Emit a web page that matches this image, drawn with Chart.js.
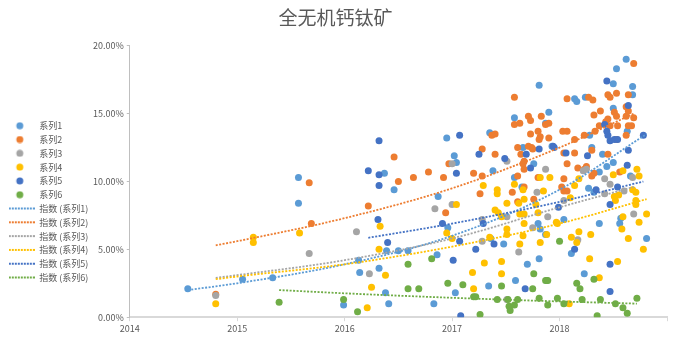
<!DOCTYPE html>
<html>
<head>
<meta charset="utf-8">
<script src="https://cdn.jsdelivr.net/npm/chart.js@4"></script>
<style>
  html, body { margin: 0; padding: 0; background: #fff; }
  #wrap { width: 680px; height: 340px; }
</style>
</head>
<body>
<div id="wrap"><canvas id="chart"></canvas></div>
<script>
// Series names and colours
const seriesNames = ["系列1", "系列2", "系列3", "系列4", "系列5", "系列6"];
const colors = ["#5B9BD5", "#ED7D31", "#A5A5A5", "#FFC000", "#4472C4", "#70AD47"];

// Points: [year, percent]
const s1 = [[2014.54,2.1],[2015.05,2.8],[2015.33,2.9],[2015.57,10.3],[2015.57,8.4],[2015.99,0.9],[2016.13,4.2],[2016.14,3.3],[2016.32,3.6],[2016.37,10.6],[2016.38,1.8],[2016.39,4.9],[2016.41,1.0],[2016.46,9.4],[2016.50,4.9],[2016.59,4.9],[2016.83,1.0],[2016.86,4.6],[2016.87,8.9],[2016.95,13.2],[2016.96,6.6],[2017.02,11.9],[2017.04,11.4],[2017.03,1.8],[2017.34,2.3],[2017.35,13.6],[2017.36,5.8],[2017.38,10.8],[2017.48,5.4],[2017.58,14.7],[2017.58,10.3],[2017.59,2.7],[2017.65,9.6],[2017.66,12.5],[2017.70,3.9],[2017.76,11.3],[2017.80,6.9],[2017.81,17.1],[2017.81,4.3],[2017.82,6.5],[2017.87,6.1],[2017.87,14.3],[2017.90,15.1],[2017.88,2.7],[2017.93,12.6],[2018.04,7.2],[2018.11,4.7],[2018.14,16.1],[2018.16,15.9],[2018.24,16.2],[2018.27,9.5],[2018.28,13.4],[2018.30,12.5],[2018.32,9.2],[2018.23,3.2],[2018.37,10.7],[2018.37,6.9],[2018.40,12.0],[2018.44,11.1],[2018.50,17.2],[2018.50,15.4],[2018.50,11.4],[2018.53,18.3],[2018.56,6.9],[2018.57,7.3],[2018.62,19.0],[2018.63,13.7],[2018.66,10.4],[2018.68,17.0],[2018.68,16.4],[2018.81,5.8]];
const s2 = [[2014.80,1.7],[2015.67,9.9],[2015.69,6.9],[2016.22,8.2],[2016.46,11.8],[2016.50,10.0],[2016.64,10.3],[2016.78,10.7],[2016.92,10.3],[2016.94,7.7],[2016.97,11.3],[2017.20,10.6],[2017.28,12.4],[2017.26,9.1],[2017.28,10.4],[2017.37,13.4],[2017.40,13.5],[2017.40,12.0],[2017.58,16.2],[2017.58,14.2],[2017.63,14.3],[2017.71,14.8],[2017.73,14.5],[2017.61,12.5],[2017.74,12.5],[2017.80,13.7],[2017.82,13.3],[2017.56,9.2],[2017.61,10.4],[2017.76,8.7],[2017.80,10.3],[2018.07,16.1],[2017.83,14.8],[2017.87,14.2],[2017.90,14.3],[2017.73,13.5],[2017.81,13.1],[2017.90,13.2],[2018.03,13.7],[2018.07,13.7],[2017.71,12.6],[2017.75,12.4],[2017.64,12.0],[2017.67,11.5],[2017.66,11.3],[2017.67,10.9],[2018.07,11.3],[2018.04,12.1],[2018.69,18.7],[2018.31,16.0],[2018.27,16.2],[2018.45,16.4],[2018.47,16.2],[2018.53,16.5],[2018.64,16.4],[2018.38,15.2],[2018.32,14.9],[2018.51,15.1],[2018.53,14.8],[2018.62,15.5],[2018.64,15.2],[2018.62,14.8],[2018.69,14.7],[2018.67,14.1],[2018.64,14.1],[2018.62,13.4],[2018.45,14.6],[2018.43,14.4],[2018.37,14.1],[2018.47,14.1],[2018.54,14.1],[2018.33,13.7],[2018.23,13.4],[2018.14,13.1],[2018.53,13.1],[2018.45,12.0],[2018.30,12.3],[2018.14,12.1],[2018.25,11.1],[2018.23,10.9],[2018.17,11.0],[2018.30,10.4],[2018.32,10.6],[2018.56,10.7],[2018.04,10.2],[2018.04,9.3],[2018.07,9.3],[2017.67,9.6],[2017.61,8.5],[2018.02,9.6]];
const s3 = [[2014.80,1.6],[2015.67,4.7],[2016.11,6.3],[2016.23,3.2],[2016.84,8.0],[2017.00,8.3],[2017.00,11.3],[2017.28,7.2],[2017.28,5.6],[2017.51,7.4],[2017.51,11.5],[2017.62,4.8],[2017.75,6.6],[2017.79,9.2],[2017.51,1.3],[2017.89,7.4],[2018.04,8.6],[2018.42,9.1],[2018.60,9.3],[2018.69,7.6],[2018.17,5.7],[2018.47,9.8],[2017.87,10.9],[2018.22,10.8],[2018.25,10.9],[2018.42,10.2],[2018.68,10.3]];
const s4 = [[2014.80,1.0],[2015.15,5.9],[2015.15,5.5],[2015.58,6.2],[2016.33,6.7],[2016.32,5.0],[2016.38,3.1],[2016.25,2.2],[2016.21,0.7],[2016.95,6.2],[2017.00,5.8],[2017.04,8.3],[2017.29,9.7],[2017.42,9.4],[2017.42,9.1],[2017.40,7.9],[2017.43,7.7],[2017.46,7.4],[2017.51,8.4],[2017.51,6.5],[2017.51,6.1],[2017.35,5.9],[2017.30,4.0],[2017.46,4.1],[2017.19,3.3],[2017.46,3.2],[2017.20,2.1],[2017.58,9.8],[2017.62,8.4],[2017.66,9.4],[2017.67,8.7],[2017.63,7.6],[2017.67,7.6],[2017.67,6.9],[2017.63,5.4],[2017.66,6.0],[2017.82,5.5],[2017.78,8.3],[2017.80,7.7],[2017.98,6.9],[2017.88,6.1],[2018.09,1.0],[2018.14,9.7],[2018.51,8.9],[2018.55,9.0],[2018.52,8.6],[2018.68,9.4],[2018.71,9.2],[2018.71,8.6],[2018.71,8.3],[2018.81,7.6],[2018.59,7.4],[2018.74,7.0],[2018.18,6.3],[2018.29,6.1],[2018.58,6.5],[2018.64,5.8],[2018.78,5.0],[2018.11,5.9],[2018.16,5.5],[2018.28,4.3],[2018.54,4.1],[2018.37,2.9],[2017.82,10.3],[2017.91,10.3],[2017.85,9.3],[2018.10,8.8],[2018.18,10.2],[2018.50,10.5],[2018.59,10.8],[2018.72,10.9],[2018.74,10.4],[2017.97,7.0]];
const s5 = [[2016.32,13.0],[2016.22,10.8],[2016.32,10.5],[2016.32,9.7],[2016.31,7.2],[2016.40,5.5],[2016.91,6.9],[2017.07,13.4],[2017.04,10.6],[2017.07,5.6],[2017.01,4.2],[2017.08,0.1],[2017.25,12.0],[2017.22,5.0],[2017.49,11.7],[2017.69,12.0],[2017.73,11.0],[2017.29,6.9],[2017.39,5.4],[2017.68,2.1],[2017.81,12.4],[2017.94,12.6],[2017.95,12.5],[2018.06,12.1],[2018.44,17.4],[2018.64,15.6],[2018.42,14.2],[2018.44,13.7],[2018.45,13.4],[2018.47,13.0],[2018.51,13.1],[2018.54,13.1],[2018.78,13.4],[2018.64,12.3],[2018.26,11.9],[2018.63,11.2],[2018.34,9.4],[2018.47,8.3],[2017.99,8.1],[2018.14,5.0],[2018.47,3.9],[2018.47,1.9],[2018.54,9.6]];
const s6 = [[2015.39,1.1],[2015.99,1.3],[2016.12,0.4],[2016.59,3.9],[2016.59,2.1],[2016.69,2.1],[2016.81,4.3],[2016.96,2.5],[2017.10,2.4],[2017.20,1.5],[2017.22,1.5],[2017.26,0.2],[2017.46,2.3],[2017.42,1.3],[2017.52,1.3],[2017.53,0.8],[2017.54,0.5],[2017.58,0.9],[2017.61,1.3],[2017.76,3.2],[2017.75,2.1],[2017.81,1.4],[2018.00,5.6],[2017.87,2.7],[2017.89,2.7],[2017.98,1.4],[2018.04,1.0],[2017.89,0.9],[2018.16,2.5],[2018.19,2.1],[2018.32,2.8],[2018.21,1.3],[2018.38,1.3],[2018.52,1.0],[2018.59,0.7],[2018.63,0.3],[2018.72,1.4],[2018.35,0.1]];

// Exponential trend lines
const trend1X = [2014.54, 2015, 2016, 2017, 2018, 2018.81];
const trend1Y = [2.0, 2.5, 3.9, 6.0, 9.4, 13.5];
const trend2X = [2014.80, 2015, 2016, 2017, 2018, 2018.69];
const trend2Y = [5.3, 5.6, 7.3, 9.5, 12.5, 15.0];
const trend3X = [2014.80, 2015, 2016, 2017, 2018, 2018.69];
const trend3Y = [2.9, 3.1, 4.2, 5.8, 8.1, 9.6];
const trend4X = [2014.80, 2015, 2016, 2017, 2018, 2018.81];
const trend4Y = [2.8, 3.0, 3.9, 5.2, 6.9, 8.7];
const trend5X = [2016.22, 2017, 2018, 2018.78];
const trend5Y = [5.85, 6.9, 8.5, 10.0];
const trend6X = [2015.39, 2016, 2017, 2018, 2018.72];
const trend6Y = [2.0, 1.76, 1.43, 1.16, 1.0];

const yearTicks = [2014, 2015, 2016, 2017, 2018];

const points = [s1, s2, s3, s4, s5, s6];
const trendX = [trend1X, trend2X, trend3X, trend4X, trend5X, trend6X];
const trendY = [trend1Y, trend2Y, trend3Y, trend4Y, trend5Y, trend6Y];

// small legend icons
function dotIcon(color) {
  const c = document.createElement("canvas");
  c.width = 26; c.height = 8;
  const g = c.getContext("2d");
  g.fillStyle = color;
  g.beginPath();
  g.arc(11, 4, 3.5, 0, Math.PI * 2);
  g.fill();
  return c;
}
function dashIcon(color) {
  const c = document.createElement("canvas");
  c.width = 26; c.height = 4;
  const g = c.getContext("2d");
  g.strokeStyle = color;
  g.lineWidth = 2;
  g.setLineDash([2, 1]);
  g.beginPath();
  g.moveTo(0, 2);
  g.lineTo(26, 2);
  g.stroke();
  return c;
}

const datasets = [];
seriesNames.forEach((name, i) => {
  datasets.push({
    label: name,
    data: points[i].map(p => ({ x: p[0], y: p[1] })),
    backgroundColor: colors[i],
    borderColor: colors[i],
    pointRadius: 3.5,
    pointBorderWidth: 0,
    pointHoverRadius: 3.5,
    order: 20 - i,
    icon: dotIcon(colors[i])
  });
});
seriesNames.forEach((name, i) => {
  datasets.push({
    label: "指数 (" + name + ")",
    data: trendX[i].map((x, j) => ({ x: x, y: trendY[i][j] })),
    showLine: true,
    borderColor: colors[i],
    backgroundColor: colors[i],
    borderWidth: 1.8,
    borderDash: [2, 1.5],
    pointRadius: 0,
    cubicInterpolationMode: "monotone",
    fill: false,
    order: 5 - i,
    icon: dashIcon(colors[i])
  });
});

Chart.defaults.font.family = '"Noto Sans CJK SC", "Noto Sans", sans-serif';
Chart.defaults.color = "#595959";

new Chart(document.getElementById("chart"), {
  type: "scatter",
  data: { datasets: datasets },
  options: {
    responsive: true,
    maintainAspectRatio: false,
    animation: false,
    layout: { padding: { left: 4, right: 13, top: 0, bottom: 4 } },
    plugins: {
      title: {
        display: true,
        text: "全无机钙钛矿",
        color: "#595959",
        font: { size: 19, weight: "normal" },
        padding: { top: 6, bottom: 17 }
      },
      legend: {
        position: "left",
        align: "center",
        maxWidth: 86,
        title: { display: true, text: " ", font: { size: 1 }, padding: { top: 33, bottom: 33 } },
        labels: {
          usePointStyle: true,
          pointStyleWidth: 26,
          boxHeight: 8,
          padding: 4.8,
          color: "#595959",
          font: { size: 9 },
          generateLabels: chart => chart.data.datasets.map((ds, i) => ({
            text: ds.label,
            fillStyle: ds.backgroundColor,
            strokeStyle: ds.borderColor,
            lineWidth: 0,
            pointStyle: ds.icon,
            hidden: false,
            datasetIndex: i
          }))
        }
      },
      tooltip: { enabled: false }
    },
    scales: {
      x: {
        type: "linear",
        min: 2014,
        max: 2019,
        afterBuildTicks: axis => { axis.ticks = yearTicks.concat([2019]).map(v => ({ value: v })); },
        ticks: {
          color: "#595959",
          font: { size: 9 },
          padding: 2,
          callback: v => (yearTicks.includes(v) ? String(v) : "")
        },
        grid: { drawOnChartArea: false, tickLength: 4, color: "#D9D9D9" },
        border: { color: "#D9D9D9", width: 2 }
      },
      y: {
        min: 0,
        max: 20,
        ticks: {
          stepSize: 5,
          color: "#595959",
          font: { size: 9 },
          padding: 3,
          callback: v => v.toFixed(2) + "%"
        },
        grid: { drawOnChartArea: false, tickLength: 3, color: "#BFBFBF" },
        border: { color: "#BFBFBF", width: 1 }
      }
    }
  }
});
</script>
</body>
</html>
